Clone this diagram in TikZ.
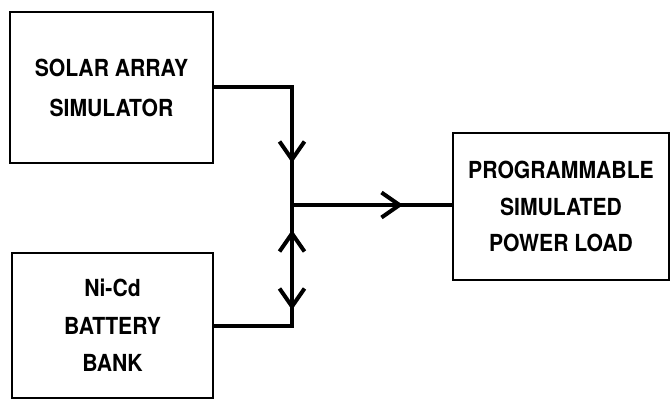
\documentclass[tikz,border=0pt]{standalone}
\usepackage{fontspec}
\setmainfont[FakeStretch=0.9]{TeX Gyre Heros}
\usetikzlibrary{arrows.meta}
\begin{document}
\begin{tikzpicture}[x=1pt,y=-1pt,
  blockbox/.style={draw,line width=2.6pt,inner sep=0pt,align=center,
    font=\bfseries\fontsize{23.5}{40}\selectfont},
  wire/.style={line width=4.4pt,line cap=rect},
  barb/.style={line width=4.4pt,-{Straight Barb[length=18pt,width=25pt,line width=4pt]},shorten >=-2pt}]
\useasboundingbox (0,0) rectangle (670,400);
\node[blockbox,minimum width=203pt,minimum height=151pt] (sa) at (111.5,87.5) {SOLAR ARRAY\\SIMULATOR};
\node[blockbox,minimum width=201pt,minimum height=145pt,font=\bfseries\fontsize{23.5}{37.5}\selectfont] (bb) at (112.5,325.5) {Ni-Cd\\BATTERY\\BANK};
\node[blockbox,minimum width=216pt,minimum height=147pt,font=\bfseries\fontsize{23.5}{36.5}\selectfont] (ld) at (561,206.5) {PROGRAMMABLE\\SIMULATED\\POWER LOAD};
\coordinate (c1) at (292,87);
\coordinate (j) at (292,205);
\coordinate (c2) at (292,326);
\coordinate (a1) at (292,161);
\coordinate (a2) at (292,232);
\coordinate (a3) at (292,308);
\coordinate (a4) at (401,205);
\draw[wire] (sa.east |- c1) -- (c1) -- (j);
\draw[wire] (bb.east |- c2) -- (c2) -- (j);
\draw[wire,line width=3.8pt] (j) -- (ld.west |- j);
\draw[barb] (c1) -- (a1);
\draw[barb] (c2) -- (a2);
\draw[barb] (j) -- (a3);
\draw[barb,line width=3.8pt] (j) -- (a4);
\end{tikzpicture}
\end{document}
